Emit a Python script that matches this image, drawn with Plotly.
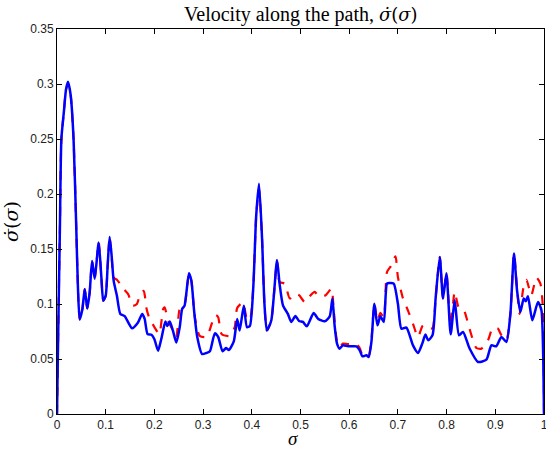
import plotly.graph_objects as go

# Blue (solid) series
sigma_blue = [0, 0.002, 0.006, 0.009, 0.0144, 0.0185, 0.0226, 0.028, 0.034, 0.0397, 0.043, 0.0466,
              0.052, 0.057, 0.062, 0.067, 0.072, 0.0774, 0.0856, 0.091, 0.095, 0.1, 0.104, 0.108,
              0.112, 0.1164, 0.123, 0.130, 0.139, 0.154, 0.166, 0.175, 0.18, 0.186, 0.194, 0.2,
              0.2075, 0.214, 0.2226, 0.2267, 0.2315, 0.238, 0.245, 0.252, 0.257, 0.262, 0.271,
              0.276, 0.2815, 0.288, 0.298, 0.307, 0.314, 0.324, 0.331, 0.34, 0.347, 0.353, 0.363,
              0.370, 0.375, 0.3836, 0.390, 0.396, 0.403, 0.409, 0.4148, 0.421, 0.426, 0.431, 0.440,
              0.4518, 0.457, 0.464, 0.474, 0.481, 0.4895, 0.497, 0.505, 0.513, 0.527, 0.536, 0.5497,
              0.56, 0.5655, 0.570, 0.575, 0.5805, 0.587, 0.5976, 0.6148, 0.6216, 0.627, 0.6353,
              0.640, 0.6456, 0.6517, 0.658, 0.664, 0.671, 0.6776, 0.683, 0.6914, 0.700, 0.7072,
              0.7175, 0.731, 0.7413, 0.750, 0.7565, 0.762, 0.771, 0.7776, 0.786, 0.7926, 0.7996,
              0.8084, 0.8166, 0.8255, 0.8337, 0.8474, 0.8645, 0.8817, 0.892, 0.902, 0.9125, 0.9228,
              0.931, 0.9384, 0.9446, 0.9515, 0.9583, 0.9624, 0.967, 0.976, 0.9877, 0.9947, 0.998, 1.0]
vel_blue = [0, 0.06, 0.17, 0.25, 0.276, 0.295, 0.302, 0.29, 0.25, 0.167, 0.115, 0.086,
            0.095, 0.1136, 0.096, 0.11, 0.139, 0.123, 0.156, 0.125, 0.103, 0.1076, 0.135, 0.161,
            0.145, 0.121, 0.1076, 0.091, 0.089, 0.078, 0.083, 0.091, 0.0864, 0.0727, 0.072, 0.068,
            0.0576, 0.068, 0.084, 0.080, 0.084, 0.0758, 0.065, 0.079, 0.0955, 0.0985, 0.128,
            0.121, 0.094, 0.070, 0.0545, 0.0555, 0.057, 0.0733, 0.070, 0.057, 0.060, 0.0582, 0.066,
            0.0864, 0.0758, 0.0985, 0.079, 0.080, 0.115, 0.18, 0.2094, 0.16, 0.1, 0.076, 0.085,
            0.1397, 0.1185, 0.0988, 0.091, 0.0837, 0.089, 0.0846, 0.0837, 0.0797, 0.0918, 0.0867, 0.0843,
            0.0888, 0.105, 0.0806, 0.064, 0.0594, 0.0624, 0.0615, 0.0615, 0.0579, 0.0524, 0.0534,
            0.0518, 0.0655, 0.1003, 0.0806, 0.0888, 0.0837, 0.1185, 0.119, 0.1185, 0.1003, 0.0776,
            0.0785, 0.0624, 0.0555, 0.064, 0.0722, 0.067, 0.0715, 0.106, 0.1427, 0.105, 0.128,
            0.0724, 0.1034, 0.0715, 0.0746, 0.0594, 0.0473, 0.0494, 0.0624, 0.0615, 0.070, 0.0655,
            0.0912, 0.1458, 0.1125, 0.0927, 0.105, 0.1025, 0.107, 0.0852, 0.1018, 0.0943, 0.06, 0]

# Red (dashed) series
sigma_red = [0, 0.002, 0.006, 0.009, 0.0144, 0.0185, 0.0226, 0.028, 0.034, 0.0397, 0.043, 0.0466,
             0.052, 0.057, 0.062, 0.067, 0.072, 0.0774, 0.0856, 0.091, 0.095, 0.1, 0.104, 0.108,
             0.112, 0.1164, 0.123, 0.130, 0.137, 0.146, 0.156, 0.164, 0.170, 0.178, 0.184, 0.189,
             0.2, 0.21, 0.218, 0.221, 0.228, 0.238, 0.245, 0.252, 0.262, 0.271, 0.276, 0.283,
             0.293, 0.307, 0.32, 0.326, 0.331, 0.338, 0.355, 0.365, 0.37, 0.382, 0.389, 0.396,
             0.403, 0.409, 0.4148, 0.421, 0.426, 0.431, 0.440, 0.4518, 0.457, 0.4676, 0.478, 0.488,
             0.497, 0.5086, 0.5175, 0.529, 0.539, 0.5517, 0.5635, 0.5655, 0.570, 0.575, 0.5805, 0.587,
             0.598, 0.608, 0.6148, 0.6216, 0.627, 0.6353, 0.640, 0.6456, 0.6517, 0.658, 0.664, 0.671,
             0.6776, 0.6866, 0.695, 0.700, 0.7105, 0.7207, 0.731, 0.7413, 0.7515, 0.762, 0.771, 0.7776,
             0.786, 0.7926, 0.7996, 0.8084, 0.8166, 0.8255, 0.8357, 0.846, 0.861, 0.8715, 0.885, 0.895,
             0.9055, 0.912, 0.9228, 0.931, 0.9384, 0.9446, 0.950, 0.958, 0.964, 0.974, 0.9844, 0.9926,
             0.998, 1.0]
vel_red = [0, 0.06, 0.17, 0.25, 0.276, 0.295, 0.300, 0.29, 0.25, 0.167, 0.115, 0.086,
           0.095, 0.1136, 0.096, 0.11, 0.139, 0.123, 0.156, 0.125, 0.103, 0.1076, 0.135, 0.161,
           0.145, 0.124, 0.122, 0.118, 0.1136, 0.109, 0.0985, 0.100, 0.1076, 0.112, 0.0955, 0.088,
           0.079, 0.0727, 0.0955, 0.097, 0.085, 0.076, 0.07, 0.0955, 0.1, 0.128, 0.121, 0.088,
           0.071, 0.070, 0.085, 0.09, 0.088, 0.0727, 0.071, 0.079, 0.0964, 0.1015, 0.088, 0.085,
           0.115, 0.18, 0.205, 0.16, 0.1, 0.076, 0.085, 0.1397, 0.12, 0.1185, 0.105, 0.1094,
           0.108, 0.1018, 0.1064, 0.111, 0.1064, 0.108, 0.114, 0.11, 0.085, 0.066, 0.061, 0.064,
           0.0635, 0.064, 0.0635, 0.06, 0.054, 0.0545, 0.053, 0.067, 0.1003, 0.085, 0.092, 0.088,
           0.129, 0.135, 0.1434, 0.1245, 0.105, 0.094, 0.082, 0.070, 0.0806, 0.078, 0.078, 0.106,
           0.1427, 0.105, 0.128, 0.08, 0.111, 0.0958, 0.094, 0.079, 0.060, 0.0594, 0.067, 0.0785,
           0.0776, 0.072, 0.067, 0.0912, 0.1458, 0.115, 0.091, 0.1155, 0.122, 0.108, 0.124, 0.1185,
           0.094, 0]

x_ticks = [0, 0.1, 0.2, 0.3, 0.4, 0.5, 0.6, 0.7, 0.8, 0.9, 1]
x_labels = ["0", "0.1", "0.2", "0.3", "0.4", "0.5", "0.6", "0.7", "0.8", "0.9", "1"]
y_ticks = [0, 0.05, 0.1, 0.15, 0.2, 0.25, 0.3, 0.35]
y_labels = ["0", "0.05", "0.1", "0.15", "0.2", "0.25", "0.3", "0.35"]

SERIF = "DejaVu Serif, Liberation Serif, serif"
TIMES = "Liberation Serif, Times New Roman, serif"
SIGDOT = "<span style='font-family:DejaVu Serif'><i>σ̇</i>(<i>σ</i>)</span>"

fig = go.Figure()
fig.add_trace(go.Scatter(x=sigma_red, y=vel_red, mode="lines",
                         line=dict(color="#ff0000", width=2.2, dash="dash", shape="spline", smoothing=0.6),
                         showlegend=False, hoverinfo="skip"))
fig.add_trace(go.Scatter(x=sigma_blue, y=vel_blue, mode="lines",
                         line=dict(color="#0000ff", width=2.5, shape="spline", smoothing=0.6),
                         showlegend=False, hoverinfo="skip"))

axis_common = dict(showline=True, linecolor="black", linewidth=1, mirror="ticks",
                   ticks="inside", ticklen=5, tickcolor="black", showgrid=False, zeroline=False,
                   ticklabeloverflow="allow", automargin=False,
                   tickfont=dict(family="Liberation Sans, Arial, sans-serif", size=12, color="#222"))

fig.update_xaxes(range=[0, 1], tickvals=x_ticks, ticktext=x_labels, **axis_common)
fig.update_yaxes(range=[0, 0.35], tickvals=y_ticks, ticktext=y_labels,
                 title=dict(text=SIGDOT, font=dict(family=SERIF, size=19, color="black"), standoff=8),
                 **axis_common)

fig.add_annotation(text="<i>σ</i>", xref="paper", yref="paper", x=0.4846, y=0,
                   xanchor="center", yanchor="middle", yshift=-24, showarrow=False,
                   font=dict(family=TIMES, size=19, color="black"))

fig.update_layout(
    width=546, height=449,
    margin=dict(l=57, r=2, t=29, b=35),
    paper_bgcolor="white", plot_bgcolor="white",
    title=dict(text="Velocity along the path, " + "<span style='font-family:DejaVu Serif;font-size:18px'><i>σ̇</i>(<i>σ</i>)</span>",
               x=0.551, xanchor="center", y=0.985, yanchor="top",
               font=dict(family=TIMES, size=20, color="black")),
)

fig.write_html("out.html", config={"displayModeBar": False, "staticPlot": True},
               post_script="document.body.style.margin='0';document.body.style.overflow='hidden';")
